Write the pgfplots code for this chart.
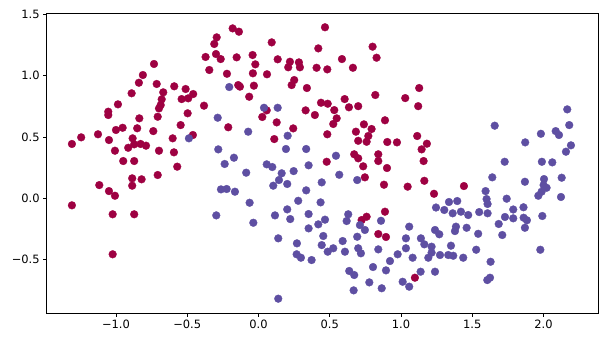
\documentclass[border=0pt]{standalone}
\usepackage{pgfplots}
\pgfplotsset{compat=1.18}
\usepackage{fontspec}
\setmainfont{DejaVu Sans}
\definecolor{cred}{HTML}{9E0142}
\definecolor{cblue}{HTML}{5E4FA2}
\begin{document}
\begin{tikzpicture}
\useasboundingbox (-46.7bp,-26.7bp) rectangle (558.3bp,313.3bp);
\begin{axis}[
  scale only axis, width=551.6bp, height=300bp,
  xmin=-1.486, xmax=2.385, ymin=-0.937, ymax=1.508,
  axis line style={line width=0.8bp, black},
  tick align=outside, major tick length=3.5bp,
  tick style={line width=0.8bp, black},
  xtick={-1,-0.5,0,0.5,1,1.5,2},
  xticklabels={−1.0,−0.5,0.0,0.5,1.0,1.5,2.0},
  ytick={-0.5,0,0.5,1,1.5},
  yticklabels={−0.5,0.0,0.5,1.0,1.5},
  xtick pos=bottom, ytick pos=left,
  ticklabel style={font=\fontsize{11.5}{13}\selectfont},
  clip=false,
]
\addplot[only marks, mark=*, mark size=3.9bp, color=cred, mark options={line width=0.3bp}] table {
x y
-0.733 1.095
-0.811 1.005
-0.839 0.942
-0.714 0.932
-0.591 0.913
-0.668 0.864
-0.890 0.856
-0.511 0.891
-0.539 0.809
-0.679 0.807
-0.686 0.760
-0.986 0.766
-1.054 0.706
-1.054 0.679
-0.698 0.733
-0.707 0.665
-0.836 0.652
-0.497 0.693
-0.546 0.597
-1.126 0.522
-1.244 0.497
-1.309 0.443
-1.049 0.475
-1.000 0.557
-0.953 0.575
-0.851 0.571
-0.738 0.548
-0.602 0.489
-0.883 0.489
-0.914 0.412
-0.872 0.440
-0.827 0.443
-0.789 0.429
-1.007 0.388
-0.698 0.388
-0.593 0.375
-0.949 0.304
-0.872 0.304
-0.570 0.258
-0.707 0.190
-0.886 0.163
-0.820 0.155
-0.886 0.103
-1.117 0.108
-1.049 0.059
-1.007 0.021
-1.309 -0.057
-1.023 -0.130
-0.872 -0.130
-1.023 -0.456
-0.181 1.385
-0.137 1.358
-0.293 1.312
-0.310 1.258
0.467 1.394
0.093 1.271
0.420 1.222
-0.371 1.152
-0.298 1.176
-0.265 1.135
-0.153 1.149
-0.041 1.168
-0.022 1.092
0.135 1.133
0.221 1.113
0.209 1.068
0.284 1.108
0.291 1.068
0.408 1.064
0.483 1.051
-0.345 1.046
-0.221 1.015
-0.039 1.019
0.060 1.011
0.251 0.964
0.233 0.923
0.340 0.899
-0.142 0.923
-0.130 0.910
-0.032 0.918
-0.065 0.828
-0.458 0.850
-0.493 0.815
-0.382 0.755
0.439 0.779
0.486 0.771
0.058 0.717
0.331 0.717
-0.212 0.579
-0.460 0.516
0.027 0.663
0.128 0.619
0.396 0.679
0.244 0.570
0.111 0.483
0.483 0.522
0.479 0.298
0.801 1.236
0.829 1.146
0.586 1.135
0.663 1.064
1.128 0.899
1.030 0.817
0.820 0.842
0.605 0.809
0.532 0.719
0.635 0.742
0.700 0.751
1.121 0.751
0.549 0.652
0.525 0.606
0.888 0.636
0.740 0.603
0.794 0.565
0.684 0.543
0.771 0.508
0.700 0.469
0.759 0.461
0.904 0.459
0.972 0.456
1.114 0.508
1.182 0.445
1.145 0.399
0.672 0.359
0.700 0.326
0.841 0.359
0.841 0.304
0.735 0.261
0.902 0.247
1.159 0.304
0.747 0.171
0.881 0.111
1.047 0.095
1.164 0.143
1.232 0.037
1.442 0.100
0.724 -0.177
0.759 -0.150
0.888 -0.109
0.841 -0.291
0.895 -0.315
1.098 -0.647
};
\addplot[only marks, mark=*, mark size=3.9bp, color=cblue, mark options={line width=0.3bp}] table {
x y
-0.488 0.489
-0.205 0.907
0.039 0.738
0.135 0.738
-0.286 0.657
-0.072 0.543
0.205 0.510
-0.282 0.399
0.193 0.402
0.335 0.402
-0.172 0.331
-0.237 0.280
0.058 0.277
0.097 0.255
0.352 0.269
-0.086 0.209
0.163 0.204
0.247 0.222
0.144 0.149
0.104 0.103
0.202 0.117
0.444 0.130
-0.263 0.073
-0.223 0.076
-0.165 0.054
0.335 0.065
-0.062 -0.036
0.279 -0.020
0.436 -0.033
0.202 -0.090
-0.296 -0.139
-0.036 -0.199
0.116 -0.139
0.223 -0.169
0.352 -0.128
0.352 -0.245
0.420 -0.212
0.467 -0.174
0.139 -0.326
0.270 -0.367
0.455 -0.307
0.444 -0.381
0.486 -0.435
0.268 -0.456
0.298 -0.484
0.373 -0.503
0.139 -0.818
0.544 0.347
0.567 0.192
0.693 0.149
1.337 -0.030
1.395 -0.022
1.246 -0.075
1.304 -0.095
0.630 -0.130
0.619 -0.185
0.860 -0.183
0.712 -0.218
0.747 -0.258
0.693 -0.313
0.591 -0.348
0.525 -0.407
0.607 -0.435
0.700 -0.407
0.719 -0.448
0.841 -0.416
0.977 -0.456
0.923 -0.511
1.035 -0.407
1.035 -0.326
1.058 -0.231
1.082 -0.484
0.804 -0.560
0.895 -0.587
0.637 -0.592
0.672 -0.625
0.778 -0.685
0.865 -0.733
0.668 -0.750
1.012 -0.680
1.058 -0.720
1.138 -0.598
1.239 -0.598
1.140 -0.326
1.164 -0.375
1.215 -0.394
1.192 -0.484
1.215 -0.443
1.274 -0.462
1.332 -0.462
1.351 -0.386
1.367 -0.468
1.437 -0.484
1.239 -0.258
1.269 -0.293
1.386 -0.231
1.379 -0.267
1.461 -0.240
1.363 -0.122
1.421 -0.109
1.472 -0.136
2.167 0.725
1.658 0.592
2.181 0.597
1.982 0.526
2.086 0.548
2.109 0.516
1.872 0.456
2.193 0.432
2.158 0.380
1.728 0.298
1.989 0.298
2.062 0.293
1.641 0.171
1.870 0.135
2.004 0.157
2.128 0.168
2.001 0.108
2.022 0.086
1.987 0.054
1.964 0.021
2.123 0.011
1.594 0.059
1.601 -0.006
1.608 -0.046
1.742 -0.003
1.788 -0.091
1.860 -0.073
1.549 -0.112
1.608 -0.122
1.730 -0.152
1.788 -0.163
1.861 -0.158
1.884 -0.179
1.992 -0.144
1.686 -0.209
1.870 -0.240
1.542 -0.289
1.711 -0.299
1.528 -0.419
1.978 -0.419
1.629 -0.517
1.606 -0.666
1.625 -0.647
};
\end{axis}
\end{tikzpicture}
\end{document}
